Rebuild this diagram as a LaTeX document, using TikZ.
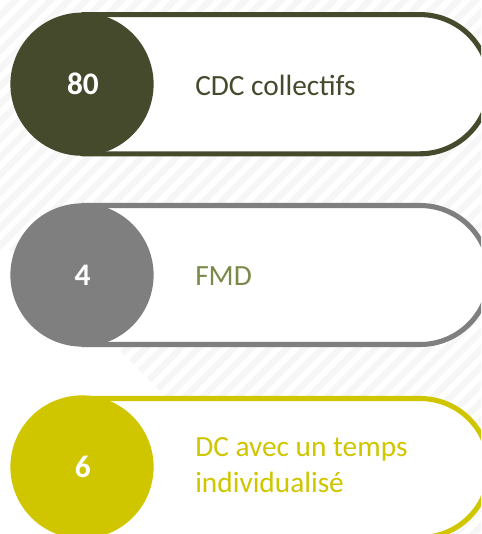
\documentclass[tikz,border=0pt]{standalone}
\usepackage{fontspec}
\setmainfont{Carlito}
\definecolor{cA}{HTML}{464A2D}
\definecolor{cB}{HTML}{7F7F7F}
\definecolor{cC}{HTML}{CFC600}
\definecolor{cG}{HTML}{7B8A4B}
\definecolor{stripe}{HTML}{F6F6F6}
\tikzset{
  x=0.75pt,y=-0.75pt,
  pill/.style={draw=#1,line width=3.8pt,fill=white},
  disc/.style={circle,fill=#1,draw=none,minimum size=107.4pt,inner sep=0pt,text=white,font=\fontsize{23.5}{24}\selectfont\bfseries},
  lab/.style={anchor=west,align=left,text=#1,font=\fontsize{22}{26.6}\selectfont,inner sep=0pt}
}
\begin{document}
\begin{tikzpicture}
\useasboundingbox (0,0) rectangle (481,534);
\fill[white] (0,0) rectangle (481,534);
\begin{scope}
\clip (0,0) -- (481,0) -- (481,534) -- (303,534) -- (20,251) -- (0,250) -- cycle;
\foreach \k in {0,...,60}{
  \fill[stripe] ({\k*17.7+11.3},0) -- ({\k*17.7+20.1},0) -- ({\k*17.7+20.1-540},540) -- ({\k*17.7+11.3-540},540) -- cycle;
}
\end{scope}
\begin{scope}
\clip (0,0) rectangle (481,534);
\draw[pill=cA] (84,14.6) -- (420,14.6) arc (-90:90:69.6) -- (84,153.8) -- cycle;
\draw[pill=cB] (84,205.5) -- (420,205.5) arc (-90:90:69.5) -- (84,344.5) -- cycle;
\draw[pill=cC] (84,398.5) -- (420,398.5) arc (-90:90:69.5) -- (84,537.5) -- cycle;
\end{scope}
\node[disc=cA] (a) at (82,84.2) {\kern1.4pt 80};
\node[disc=cB] (b) at (82,275) {\kern1pt 4};
\node[disc=cC] (c) at (82,467) {\kern1.4pt 6};
\node[lab=cA] (ta) at (195,85) {CDC collectifs};
\node[lab=cG] (tb) at (195,276.5) {FMD};
\node[lab=cC] (tc) at (195,465) {DC avec un temps\\individualisé};
\end{tikzpicture}
\end{document}
